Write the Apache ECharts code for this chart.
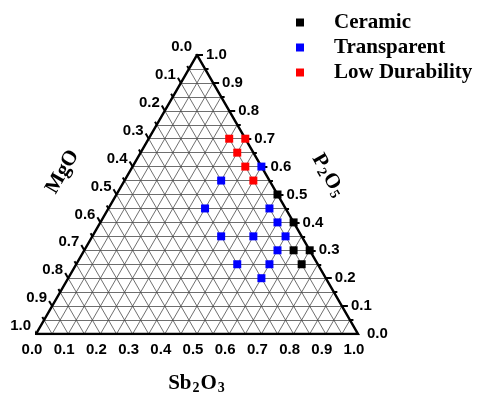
<!DOCTYPE html>
<html><head><meta charset="utf-8">
<script src="https://cdn.jsdelivr.net/npm/echarts@6/dist/echarts.min.js"></script>
<style>html,body{margin:0;padding:0;background:#fff}#c{width:479px;height:400px}</style>
</head><body><div id="c"></div>
<script>
// Composition data: [Sb2O3, MgO, P2O5]
const seriesNames = ['Ceramic', 'Transparent', 'Low Durability'];
const seriesColors = ['#000000', '#0000ff', '#ff0000'];
const ceramic = [[0.50,0.00,0.50],[0.60,0.00,0.40],[0.65,0.05,0.30],[0.70,0.00,0.30],[0.70,0.05,0.25]];
const transparent = [[0.40,0.00,0.60],[0.30,0.15,0.55],[0.30,0.25,0.45],[0.50,0.05,0.45],[0.55,0.05,0.40],
  [0.40,0.25,0.35],[0.50,0.15,0.35],[0.60,0.05,0.35],[0.60,0.10,0.30],[0.50,0.25,0.25],[0.60,0.15,0.25],[0.60,0.20,0.20]];
const lowDurability = [[0.25,0.05,0.70],[0.30,0.00,0.70],[0.30,0.05,0.65],[0.35,0.05,0.60],[0.40,0.05,0.55]];
const tickValues = [0,0.1,0.2,0.3,0.4,0.5,0.6,0.7,0.8,0.9,1.0];
const tickLabels = ['0.0','0.1','0.2','0.3','0.4','0.5','0.6','0.7','0.8','0.9','1.0'];
const gridDivisions = 20;

const H = Math.sqrt(3) / 2;
function xy(sb, mg, p) { return [sb + p / 2, p * H]; }
const PX = 1 / 322; // data units per pixel

// grid lines
const gridLines = [];
for (let k = 1; k < gridDivisions; k++) {
  const v = k / gridDivisions;
  gridLines.push({coords: [xy(0, 1 - v, v), xy(1 - v, 0, v)]});   // const P2O5
  gridLines.push({coords: [xy(v, 1 - v, 0), xy(v, 0, 1 - v)]});   // const Sb2O3
  gridLines.push({coords: [xy(0, v, 1 - v), xy(1 - v, v, 0)]});   // const MgO
}
// ticks
const ticks = [];
for (let k = 0; k <= gridDivisions; k++) {
  const v = k / gridDivisions;
  const len = (k % 2 === 0 ? 6 : 3.5) * PX;
  let b = xy(v, 1 - v, 0);
  ticks.push({coords: [b, [b[0] - 0.5 * len, b[1] - H * len]]});
  b = xy(0, v, 1 - v);
  ticks.push({coords: [b, [b[0] - 0.5 * len, b[1] + H * len]]});
  b = xy(1 - v, 0, v);
  ticks.push({coords: [b, [b[0] + len, b[1]]]});
}
const frame = [{coords: [xy(0,1,0), xy(1,0,0), xy(0,0,1), xy(0,1,0)]}];

const bottomLabels = tickValues.map((v, i) => ({value: xy(v, 1 - v, 0), name: tickLabels[i]}));
const leftLabels = tickValues.map((v, i) => ({value: xy(0, v, 1 - v), name: tickLabels[i]}));
const rightLabels = tickValues.map((v, i) => ({value: xy(1 - v, 0, v), name: tickLabels[i]}));

const tickFont = {fontFamily: 'Liberation Sans', fontWeight: 'bold', fontSize: 15, color: '#000', opacity: 1};
function labelSeries(data, pos, align) {
  return {type: 'scatter', data: data, symbolSize: 0, silent: true, z: 5,
    itemStyle: {opacity: 1},
    label: Object.assign({show: true, position: pos, align: align, verticalAlign: 'middle',
      formatter: p => p.name}, tickFont)};
}

const dataSets = [ceramic, transparent, lowDurability];
const dataSeries = dataSets.map((d, i) => ({
  name: seriesNames[i], type: 'scatter', symbol: 'rect', symbolSize: 8, z: 10,
  itemStyle: {color: seriesColors[i], opacity: 1},
  data: d.map(c => xy(c[0], c[1], c[2]))
}));

const titleRich = {
  a: {fontFamily: 'Liberation Serif', fontWeight: 'bold', fontSize: 21, lineHeight: 22, verticalAlign: 'top', color: '#000'},
  s: {fontFamily: 'Liberation Serif', fontWeight: 'bold', fontSize: 14, lineHeight: 14, padding: [14,1,0,1], verticalAlign: 'bottom', color: '#000'}
};

const chart = echarts.init(document.getElementById('c'));
chart.setOption({
  animation: false,
  backgroundColor: '#fff',
  grid: {left: 36, top: 55, width: 322, height: 279},
  xAxis: {type: 'value', min: 0, max: 1, show: false},
  yAxis: {type: 'value', min: 0, max: H, show: false},
  legend: {
    data: seriesNames, orient: 'vertical', left: 291, top: 7, itemWidth: 8, itemHeight: 8, itemGap: 4,
    icon: 'rect', selectedMode: false,
    textStyle: {fontFamily: 'Liberation Serif', fontWeight: 'bold', fontSize: 21, lineHeight: 21, color: '#000', padding: [0,0,0,25]}
  },
  graphic: [
    {type: 'text', x: 63, y: 172, rotation: Math.PI / 3,
      style: {text: '{a|MgO}', rich: titleRich, align: 'center', verticalAlign: 'middle'}},
    {type: 'text', x: 328, y: 176, rotation: -Math.PI / 3,
      style: {text: '{a|P}{s|2}{a|O}{s|5}', rich: titleRich, align: 'center', verticalAlign: 'middle'}},
    {type: 'text', x: 197, y: 384,
      style: {text: '{a|Sb}{s|2}{a|O}{s|3}', rich: titleRich, align: 'center', verticalAlign: 'middle'}}
  ],
  series: [
    {type: 'lines', coordinateSystem: 'cartesian2d', silent: true, z: 1, data: gridLines,
      lineStyle: {color: '#4a4a4a', width: 0.8, opacity: 1}},
    {type: 'lines', coordinateSystem: 'cartesian2d', silent: true, z: 2, data: ticks,
      lineStyle: {color: '#000', width: 2, opacity: 1}},
    {type: 'lines', coordinateSystem: 'cartesian2d', polyline: true, silent: true, z: 3, data: frame,
      lineStyle: {color: '#000', width: 2.5, opacity: 1, join: 'miter'}},
    labelSeries(bottomLabels, [-4, 16], 'center'),
    labelSeries(leftLabels, [-5, -8], 'right'),
    labelSeries(rightLabels, [9, 0], 'left')
  ].concat(dataSeries)
});
</script></body></html>
